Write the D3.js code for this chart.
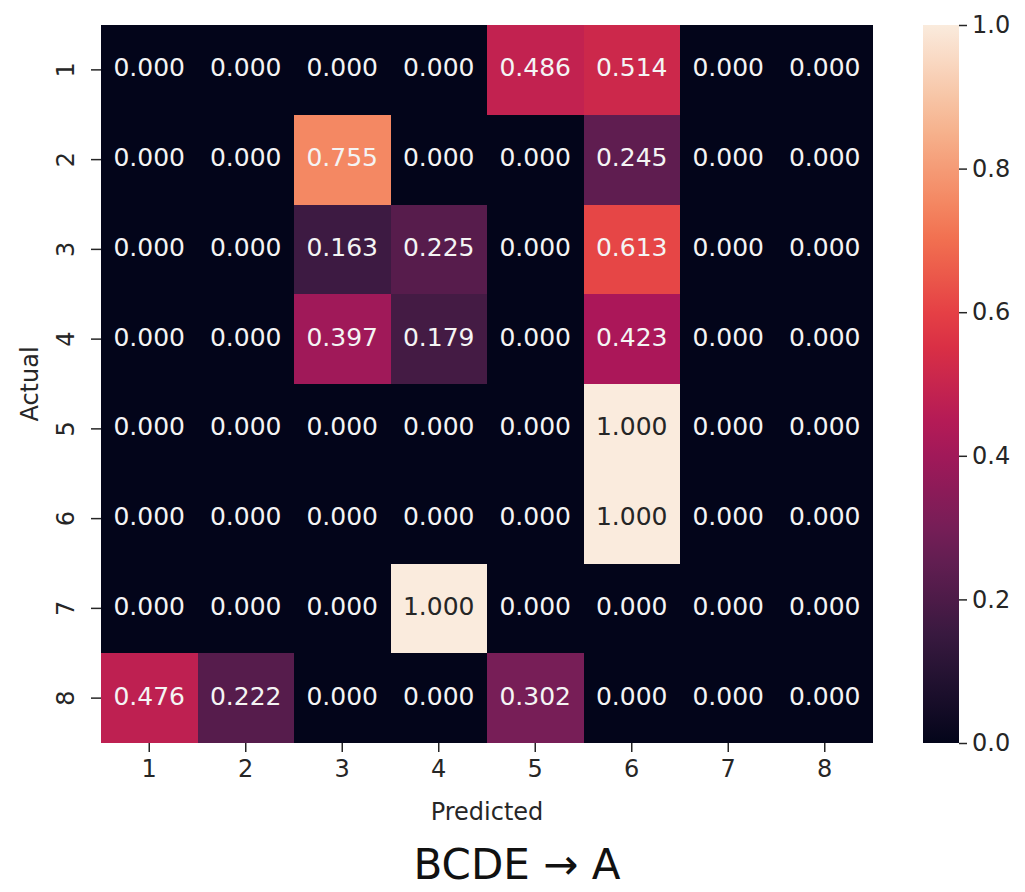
<!DOCTYPE html>
<html>
<head>
<meta charset="utf-8">
<title>Confusion matrix</title>
<script src="https://d3js.org/d3.v7.min.js"></script>
<style>
  body { margin: 0; background: #fff; }
  text { font-family: "DejaVu Sans", sans-serif; }
</style>
</head>
<body>
<div class="heatmap"></div>
<script>
  // class labels
  const predicted = ['1', '2', '3', '4', '5', '6', '7', '8'];
  const actual = ['1', '2', '3', '4', '5', '6', '7', '8'];

  // one row per actual class
  const row1 = [0, 0, 0, 0, 0.486, 0.514, 0, 0];
  const row2 = [0, 0, 0.755, 0, 0, 0.245, 0, 0];
  const row3 = [0, 0, 0.163, 0.225, 0, 0.613, 0, 0];
  const row4 = [0, 0, 0.397, 0.179, 0, 0.423, 0, 0];
  const row5 = [0, 0, 0, 0, 0, 1.000, 0, 0];
  const row6 = [0, 0, 0, 0, 0, 1.000, 0, 0];
  const row7 = [0, 0, 0, 1.000, 0, 0, 0, 0];
  const row8 = [0.476, 0.222, 0, 0, 0.302, 0, 0, 0];
  const rows = [row1, row2, row3, row4, row5, row6, row7, row8];

  const cbarTicks = [0, 0.2, 0.4, 0.6, 0.8, 1.0];

  // seaborn "rocket" colormap, sampled
  const rocketStops = ['#03051a', '#35193e', '#701f57', '#ad1759', '#e13342', '#f37651', '#f6b48f', '#faebdd'];

  const W = 1025, H = 892;
  const mLeft = 101, mTop = 25, mRight = 873, mBottom = 743;

  const svg = d3.select('.heatmap')
    .append('svg')
    .attr('width', W)
    .attr('height', H);

  const color = d3.scaleLinear()
    .domain(d3.range(rocketStops.length).map(i => i / (rocketStops.length - 1)))
    .range(rocketStops)
    .interpolate(d3.interpolateRgb)
    .clamp(true);

  const x = d3.scaleBand().domain(predicted).range([mLeft, mRight]);
  const y = d3.scaleBand().domain(actual).range([mTop, mBottom]);

  function luminance(c) {
    const rgb = d3.rgb(c);
    const f = v => { v = v / 255; return v <= 0.03928 ? v / 12.92 : Math.pow((v + 0.055) / 1.055, 2.4); };
    return 0.2126 * f(rgb.r) + 0.7152 * f(rgb.g) + 0.0722 * f(rgb.b);
  }

  const cells = [];
  rows.forEach((r, i) => r.forEach((v, j) => cells.push({ a: actual[i], p: predicted[j], v: v })));

  // dark base so no seams show between cells
  svg.append('rect')
    .attr('x', mLeft)
    .attr('y', mTop)
    .attr('width', mRight - mLeft)
    .attr('height', mBottom - mTop)
    .attr('fill', color(0));

  // cells
  svg.selectAll('rect.cell')
    .data(cells.filter(d => d.v > 0))
    .enter()
    .append('rect')
    .attr('class', 'cell')
    .attr('x', d => x(d.p))
    .attr('y', d => y(d.a))
    .attr('width', x.bandwidth())
    .attr('height', y.bandwidth())
    .attr('shape-rendering', 'crispEdges')
    .attr('fill', d => color(d.v));

  // annotations
  svg.selectAll('text.annot')
    .data(cells)
    .enter()
    .append('text')
    .attr('class', 'annot')
    .attr('x', d => x(d.p) + x.bandwidth() / 2)
    .attr('y', d => y(d.a) + y.bandwidth() / 2 - 2)
    .attr('text-anchor', 'middle')
    .attr('dominant-baseline', 'central')
    .attr('font-size', '25px')
    .attr('fill', d => luminance(color(d.v)) > 0.408 ? '#262626' : '#f4f4f4')
    .text(d => d.v.toFixed(3));

  // x axis
  const xAxis = svg.append('g')
    .attr('transform', `translate(0,${mBottom})`)
    .call(d3.axisBottom(x).tickSize(9).tickPadding(8));
  xAxis.select('.domain').remove();

  // y axis
  const yAxis = svg.append('g')
    .attr('transform', `translate(${mLeft},0)`)
    .call(d3.axisLeft(y).tickSize(10).tickPadding(0));
  yAxis.select('.domain').remove();
  yAxis.selectAll('.tick text')
    .attr('x', -35)
    .attr('dy', 0)
    .attr('text-anchor', 'middle')
    .attr('dominant-baseline', 'central')
    .attr('transform', 'rotate(-90,-35,0)');

  svg.selectAll('.tick text')
    .attr('font-family', '"DejaVu Sans", sans-serif')
    .attr('font-size', '24px')
    .attr('fill', '#262626');
  svg.selectAll('.tick line')
    .attr('stroke', '#262626')
    .attr('stroke-width', 1.5);

  // axis titles
  svg.append('text')
    .attr('x', (mLeft + mRight) / 2)
    .attr('y', 820)
    .attr('text-anchor', 'middle')
    .attr('font-size', '24px')
    .attr('fill', '#262626')
    .text('Predicted');

  svg.append('text')
    .attr('transform', `translate(38,${(mTop + mBottom) / 2}) rotate(-90)`)
    .attr('text-anchor', 'middle')
    .attr('font-size', '24px')
    .attr('fill', '#262626')
    .text('Actual');

  // colorbar
  const cbX = 923, cbW = 36;
  const defs = svg.append('defs');
  const grad = defs.append('linearGradient')
    .attr('id', 'rocket')
    .attr('x1', 0).attr('y1', 1).attr('x2', 0).attr('y2', 0);
  grad.selectAll('stop')
    .data(d3.range(0, 1.0001, 0.05))
    .enter()
    .append('stop')
    .attr('offset', d => d)
    .attr('stop-color', d => color(d));

  svg.append('rect')
    .attr('x', cbX)
    .attr('y', mTop)
    .attr('width', cbW)
    .attr('height', mBottom - mTop)
    .attr('fill', 'url(#rocket)');

  const cbScale = d3.scaleLinear().domain([0, 1]).range([mBottom, mTop]);
  const cbAxis = svg.append('g')
    .attr('transform', `translate(${cbX + cbW},0)`)
    .call(d3.axisRight(cbScale).tickValues(cbarTicks).tickFormat(d3.format('.1f')).tickSize(8).tickPadding(5));
  cbAxis.select('.domain').remove();
  cbAxis.selectAll('.tick text')
    .attr('font-size', '24px')
    .attr('font-family', '"DejaVu Sans", sans-serif')
    .attr('fill', '#262626');
  cbAxis.selectAll('.tick line')
    .attr('stroke', '#262626')
    .attr('stroke-width', 1.5);

  // caption
  svg.append('text')
    .attr('x', 517)
    .attr('y', 879)
    .attr('text-anchor', 'middle')
    .attr('font-family', '"Liberation Sans", sans-serif')
    .attr('font-size', '42px')
    .attr('fill', '#111')
    .text('BCDE \u2192 A');
</script>
</body>
</html>
